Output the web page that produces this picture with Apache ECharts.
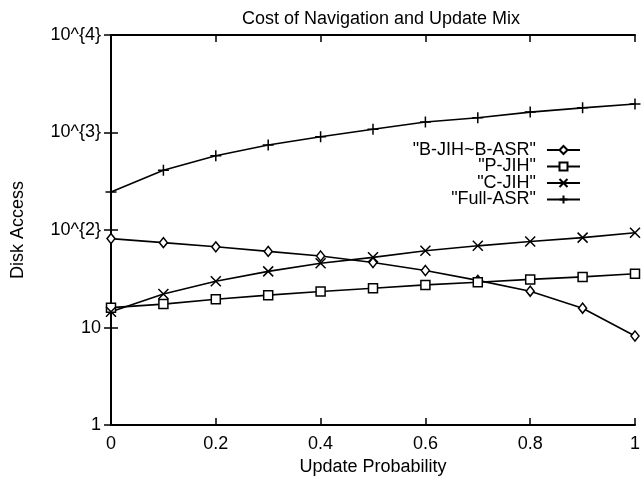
<!DOCTYPE html>
<html>
<head>
<meta charset="utf-8">
<script src="https://cdn.jsdelivr.net/npm/echarts@6/dist/echarts.min.js"></script>
<style>
  html, body { margin: 0; padding: 0; background: #fff; }
  #chart { width: 643px; height: 481px; }
</style>
</head>
<body>
<div id="chart"></div>
<script>
// Update probability on the x axis
const updateProb = [0, 0.1, 0.2, 0.3, 0.4, 0.5, 0.6, 0.7, 0.8, 0.9, 1.0];

// Disk accesses per strategy
const bjihBasr = [81.7, 74.3, 67.3, 60.4, 54.2, 46.4, 38.5, 30.5, 23.6, 15.8, 8.2];
const pjih     = [16.0, 17.4, 19.5, 21.5, 23.4, 25.3, 27.4, 29.2, 31.2, 33.1, 35.7];
const cjih     = [14.5, 22.1, 29.8, 37.7, 45.7, 52.5, 61.4, 68.9, 76.2, 83.6, 93.9];
const fullAsr  = [246, 410, 577, 745, 904, 1080, 1283, 1419, 1620, 1790, 1963];

// Series names as shown in the key
const seriesNames = ['"B-JIH~B-ASR"', '"P-JIH"', '"C-JIH"', '"Full-ASR"'];

// Tick labels
const xTickLabels = ['0', '0.2', '0.4', '0.6', '0.8', '1'];
const yTickLabels = ['1', '10', '10^{2}', '10^{3}', '10^{4}'];

const FONT = '"Liberation Sans", Arial, Helvetica, sans-serif';

function pairs(ys) {
  return updateProb.map((x, i) => [x, ys[i]]);
}

const markers = [
  { symbol: 'diamond', size: [8, 10] },
  { symbol: 'rect', size: 9 },
  { symbol: 'path://M0,0L10,10M10,0L0,10', size: 10 },
  { symbol: 'path://M5,0L5,10M0,5L10,5', size: 11 }
];

const seriesData = [bjihBasr, pjih, cjih, fullAsr];

const axisLine = { show: true, lineStyle: { color: '#000', width: 2 } };
const innerTick = { show: true, inside: true, length: 7, lineStyle: { color: '#000', width: 1.5 } };

const chart = echarts.init(document.getElementById('chart'), null, { renderer: 'canvas' });

chart.setOption({
  backgroundColor: '#fff',
  animation: false,
  title: {
    text: 'Cost of Navigation and Update Mix',
    left: 376,
    top: 5,
    textAlign: 'center',
    textStyle: { fontFamily: FONT, fontSize: 18, fontWeight: 'normal', color: '#000' }
  },
  grid: { left: 111, right: 1, top: 35, bottom: 50, containLabel: false },
  legend: {
    orient: 'vertical',
    right: 57,
    top: 136,
    align: 'right',
    itemWidth: 33,
    itemHeight: 10,
    itemGap: -1.5,
    data: seriesNames,
    textStyle: { fontFamily: FONT, fontSize: 18, lineHeight: 16.5, color: '#000', padding: [0, 6, 0, 0] }
  },
  xAxis: [
    {
      type: 'value', position: 'bottom', min: 0, max: 1, interval: 0.2,
      name: 'Update Probability', nameLocation: 'middle', nameGap: 27,
      nameTextStyle: { fontFamily: FONT, fontSize: 18, color: '#000' },
      axisLine: axisLine,
      axisTick: innerTick,
      axisLabel: {
        fontFamily: FONT, fontSize: 18, color: '#000', margin: 10,
        formatter: (v) => xTickLabels[Math.round(v / 0.2)]
      },
      splitLine: { show: false }
    },
    {
      type: 'value', position: 'top', min: 0, max: 1, interval: 0.2,
      axisLine: axisLine,
      axisTick: innerTick,
      axisLabel: { show: false },
      splitLine: { show: false }
    }
  ],
  yAxis: [
    {
      type: 'log', logBase: 10, position: 'left', min: 1, max: 10000,
      name: 'Disk Access', nameLocation: 'middle', nameGap: 84,
      nameTextStyle: { fontFamily: FONT, fontSize: 18, color: '#000' },
      axisLine: axisLine,
      axisTick: innerTick,
      minorTick: { show: false },
      axisLabel: {
        fontFamily: FONT, fontSize: 18, color: '#000', margin: 10,
        formatter: (v) => yTickLabels[Math.round(Math.log10(v))]
      },
      splitLine: { show: false }
    },
    {
      type: 'log', logBase: 10, position: 'right', min: 1, max: 10000,
      axisLine: axisLine,
      axisTick: innerTick,
      axisLabel: { show: false },
      splitLine: { show: false }
    }
  ],
  series: seriesNames.map((name, i) => ({
    name: name,
    type: 'line',
    xAxisIndex: 0,
    yAxisIndex: 0,
    data: pairs(seriesData[i]),
    symbol: markers[i].symbol,
    symbolSize: markers[i].size,
    showAllSymbol: true,
    clip: false,
    lineStyle: { color: '#000', width: 1.6 },
    itemStyle: { color: '#fff', borderColor: '#000', borderWidth: 1.5 },
    emphasis: { disabled: true }
  }))
});
</script>
</body>
</html>
